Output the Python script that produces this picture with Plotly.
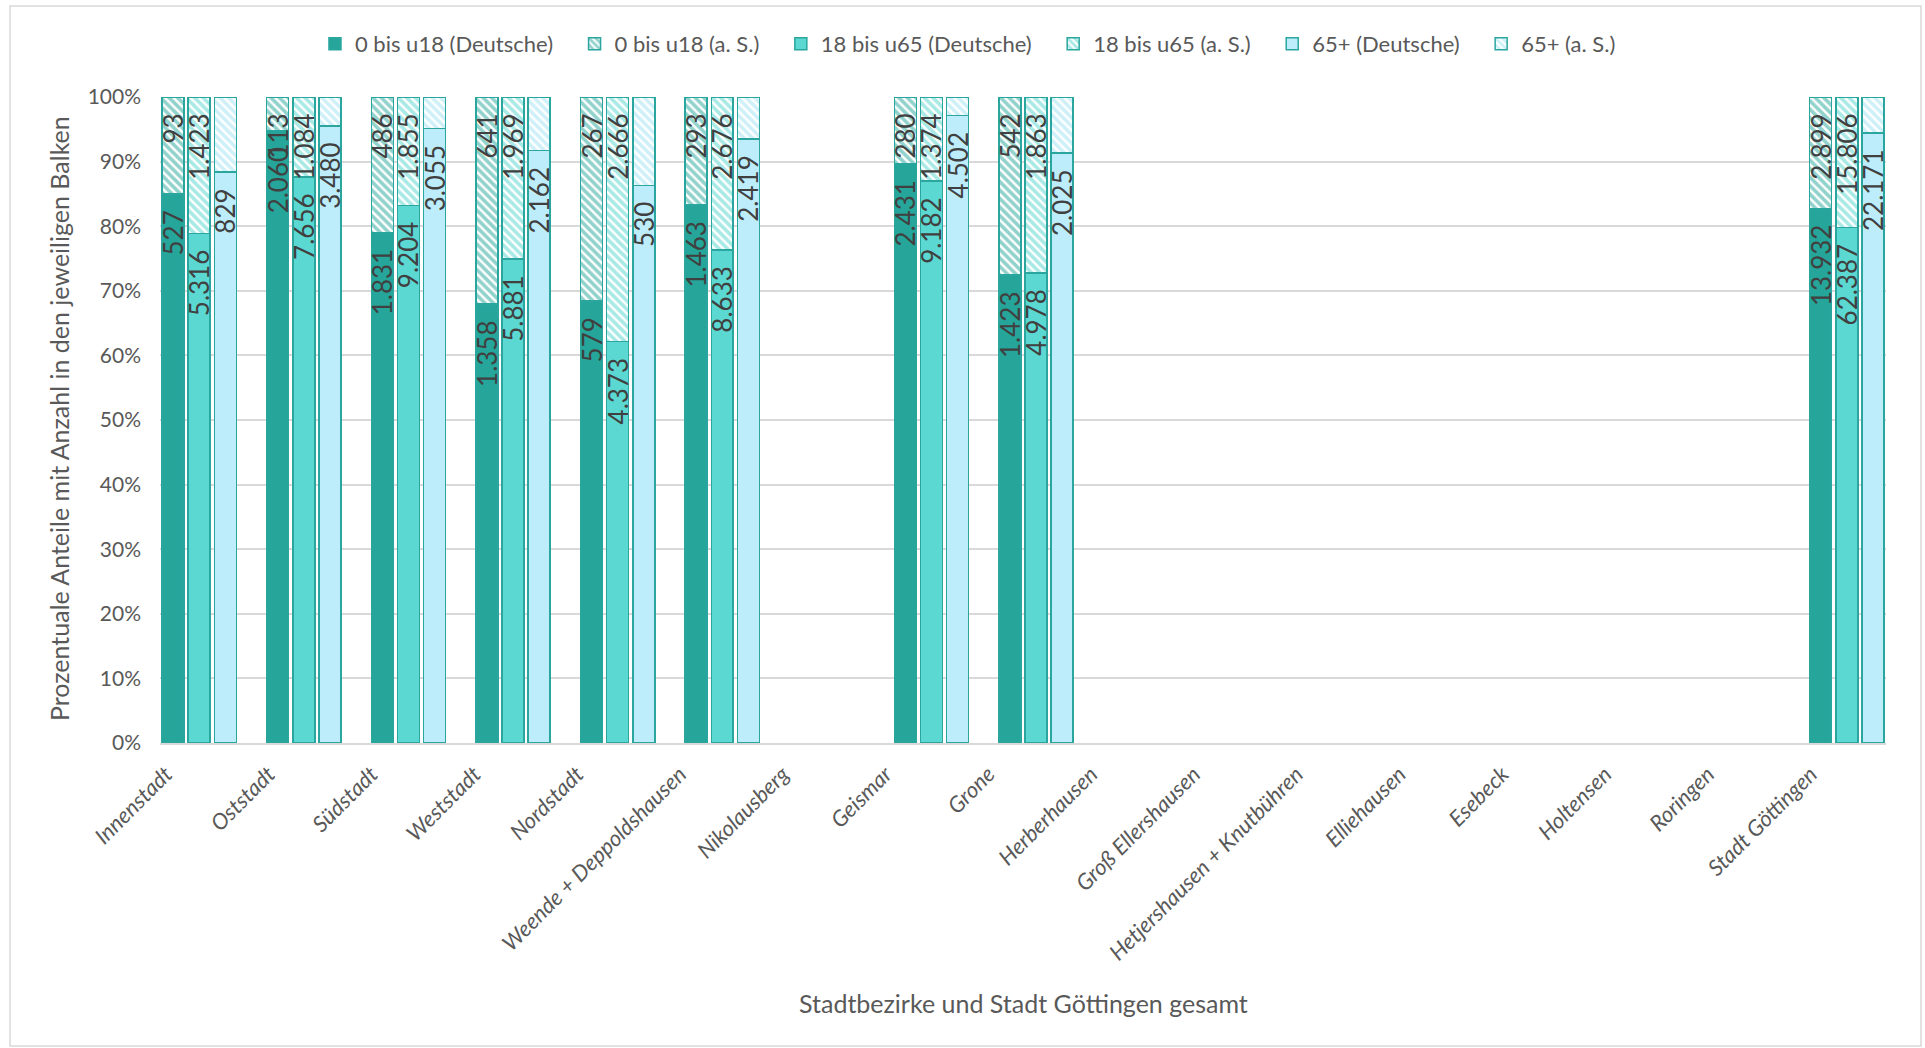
import plotly.graph_objects as go

categories = ["Innenstadt", "Oststadt", "Südstadt", "Weststadt", "Nordstadt",
              "Weende + Deppoldshausen", "Nikolausberg", "Geismar", "Grone",
              "Herberhausen", "Groß Ellershausen", "Hetjershausen + Knutbühren",
              "Elliehausen", "Esebeck", "Holtensen", "Roringen", "Stadt Göttingen"]
N = None
u18_de = [527, 2060, 1831, 1358, 579, 1463, N, 2431, 1423, N, N, N, N, N, N, N, 13932]
u18_as = [93, 113, 486, 641, 267, 293, N, 280, 542, N, N, N, N, N, N, N, 2899]
mid_de = [5316, 7656, 9204, 5881, 4373, 8633, N, 9182, 4978, N, N, N, N, N, N, N, 62387]
mid_as = [1423, 1084, 1855, 1969, 2666, 2676, N, 1374, 1863, N, N, N, N, N, N, N, 15806]
old_de = [829, 3480, 3055, 2162, 530, 2419, N, 4502, 2025, N, N, N, N, N, N, N, 22171]
old_as = [109, 164, 157, 196, 84, 168, N, 134, 193, N, N, N, N, N, N, N, 1315]

series_names = ["0 bis u18 (Deutsche)", "0 bis u18 (a. S.)",
                "18 bis u65 (Deutsche)", "18 bis u65 (a. S.)",
                "65+ (Deutsche)", "65+ (a. S.)"]
y_ticks = [0, 10, 20, 30, 40, 50, 60, 70, 80, 90, 100]
x_title = "Stadtbezirke und Stadt Göttingen gesamt"
y_title = "Prozentuale Anteile mit Anzahl in den jeweiligen Balken"

# ---- layout helpers ----
W, H = 1925, 1048
L, R, T, B = 160, 1925 - 1886, 97, 1048 - 743
PW, PH = W - L - R, H - T - B
n_cat = len(categories)
n_slots = 66
slot_px = PW / n_slots
bar_w = 0.84
tick_first_px, tick_pitch_px = 166, 102.8
colors = ["#26A69A", "#5CD8D2", "#BDEDFB"]
pat_colors = ["#26A69A", "#52D3CD", "#9FE2F3"]
edge = "#2AA69E"
TXT = "#595959"
FONT = "Lato"
PAD = "\u00a0\u00a0"


def fmt(v):
    return "" if v is None else f"{v:,}".replace(",", ".")


def group_start(i):
    return min(4 * i, n_slots - 3)


pairs = [(u18_de, u18_as), (mid_de, mid_as), (old_de, old_as)]
fig = go.Figure()
for k, (de, as_) in enumerate(pairs):
    xs = [group_start(i) + k + 0.5 for i in range(n_cat)]
    fig.add_trace(go.Bar(
        x=xs, y=de, name=series_names[2 * k] + "\u2003", width=bar_w,
        marker=dict(color=colors[k], line=dict(color=edge, width=1.5)),
        text=[fmt(v) + PAD if v is not None else "" for v in de],
        textposition="inside", insidetextanchor="end", textangle=-90,
        textfont=dict(family=FONT, size=26, color="#404040"),
        hoverinfo="skip"))
    show_lbl = k < 2
    fig.add_trace(go.Bar(
        x=xs, y=as_, name=series_names[2 * k + 1] + "\u2003", width=bar_w,
        marker=dict(color="white", line=dict(color=edge, width=1.5),
                    pattern=dict(shape="\\", fgcolor=pat_colors[k],
                                 bgcolor="white", size=6, solidity=0.6)),
        text=[(fmt(v) + PAD) if (v is not None and show_lbl) else "" for v in as_],
        textposition="inside", insidetextanchor="end", textangle=-90,
        textfont=dict(family=FONT, size=26, color="#404040"),
        hoverinfo="skip"))

tickvals = [(tick_first_px + tick_pitch_px * i - L) / slot_px for i in range(n_cat)]

fig.update_layout(
    width=W, height=H, margin=dict(l=L, r=R, t=T, b=B, autoexpand=False),
    barmode="stack", barnorm="percent",
    paper_bgcolor="white", plot_bgcolor="white",
    font=dict(family=FONT, color=TXT, size=18),
    uniformtext=dict(minsize=26, mode="show"),
    legend=dict(orientation="h", xref="container", yref="container",
                x=0.507, y=1 - 44 / H, xanchor="center", yanchor="middle",
                font=dict(family=FONT, size=22, color=TXT), traceorder="normal"),
    xaxis=dict(range=[0, n_slots], tickmode="array", tickvals=tickvals, ticktext=categories,
               tickangle=-45, showgrid=False, zeroline=False,
               showline=True, linecolor="#D9D9D9", linewidth=1.5,
               tickfont=dict(family=FONT, size=22, color=TXT, style="italic"),
               ticks="", ticklabelstandoff=8),
    yaxis=dict(range=[0, 100], tickmode="array", tickvals=y_ticks,
               ticktext=[f"{v}%" for v in y_ticks],
               showgrid=True, gridcolor="#D9D9D9", gridwidth=1.5,
               zeroline=False, showline=False,
               tickfont=dict(family=FONT, size=21, color=TXT),
               ticklabelstandoff=18),
    annotations=[
        dict(text=x_title, xref="paper", yref="paper", x=(1023 - L) / PW, y=(743 - 1003) / PH,
             showarrow=False, font=dict(family=FONT, size=25, color=TXT),
             xanchor="center", yanchor="middle"),
        dict(text=y_title, xref="paper", yref="paper", x=(59 - L) / PW, y=(743 - 419) / PH,
             showarrow=False, textangle=-90, font=dict(family=FONT, size=25, color=TXT),
             xanchor="center", yanchor="middle"),
    ],
    shapes=[dict(type="rect", xref="paper", yref="paper",
                 x0=(10 - L) / PW, x1=(1921 - L) / PW,
                 y0=(743 - 1046) / PH, y1=(743 - 6) / PH,
                 line=dict(color="#D9D9D9", width=1.5), fillcolor="rgba(0,0,0,0)",
                 layer="below")],
)

fig.write_html("out.html", config={"displayModeBar": False},
               post_script="document.body.style.margin='0px';"
                           "document.body.style.overflow='hidden';")
